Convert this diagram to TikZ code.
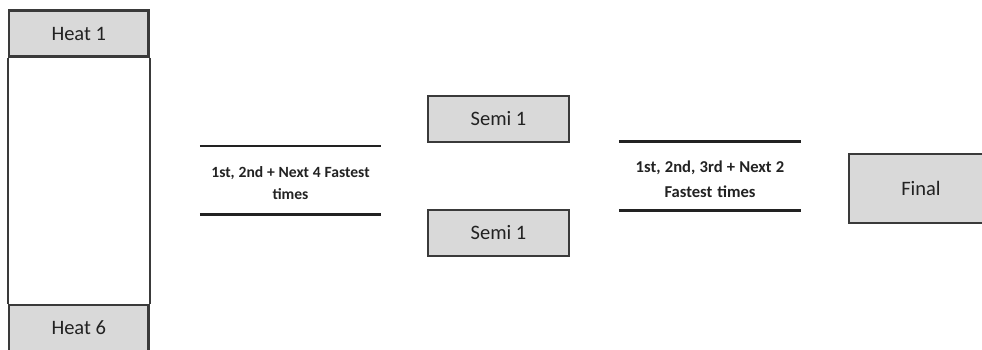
\documentclass[tikz,border=0pt]{standalone}
\usepackage{fontspec}
\setmainfont{Carlito}
\definecolor{boxgray}{HTML}{D9D9D9}
\definecolor{edgegray}{HTML}{3A3A3A}
\definecolor{rulegray}{HTML}{222222}
\newcommand{\rulespacing}{\spaceskip=0.226em plus 0.05em\relax}

\begin{document}
\begin{tikzpicture}[x=1pt, y=-1pt,
    stagebox/.style={draw=edgegray, line width=2.5pt, fill=boxgray, inner sep=0pt,
        text=rulegray, font=\fontsize{20.5}{22}\selectfont},
    rulelabel/.style={text width=181pt, inner sep=0pt, align=center, text=rulegray},
    ruleline/.style={rulegray, line width=2.5pt}]
    \useasboundingbox (0,0) rectangle (982,349);
    \clip (0,0) rectangle (982,349);
    % heats
    \node[stagebox, minimum width=139.5pt, minimum height=46pt] (heat1) at (78.75,33.5) {Heat 1};
    \node[stagebox, minimum width=139.5pt, minimum height=46pt] (heat6) at (78.75,328) {Heat 6};
    \draw[edgegray, line width=2.5pt] (heat1.south west) -- (heat6.north west);
    \draw[edgegray, line width=2.5pt] (heat1.south east) -- (heat6.north east);
    % first qualifying rule
    \node[rulelabel, font=\bfseries\fontsize{15.6}{21.5}\selectfont] (rule1) at (290.5,183)
        {\rulespacing 1st, 2nd + Next 4 Fastest\\times};
    \draw[ruleline] ([yshift=37pt]rule1.west) -- ([yshift=37pt]rule1.east);
    \draw[ruleline] ([yshift=-31.5pt]rule1.west) -- ([yshift=-31.5pt]rule1.east);
    % semis
    \node[stagebox, minimum width=141pt, minimum height=46pt] (semiA) at (498.5,119) {Semi 1};
    \node[stagebox, minimum width=141pt, minimum height=46pt] (semiB) at (498.5,233) {Semi 1};
    % second qualifying rule
    \node[rulelabel, text width=182pt, font=\bfseries\fontsize{16.6}{25}\selectfont] (rule2) at (710,179.2)
        {\rulespacing 1st, 2nd, 3rd + Next 2\\Fastest times};
    \draw[ruleline] ([yshift=37.5pt]rule2.west) -- ([yshift=37.5pt]rule2.east);
    \draw[ruleline] ([yshift=-31.5pt]rule2.west) -- ([yshift=-31.5pt]rule2.east);
    % final
    \node[stagebox, minimum width=144pt, minimum height=69pt] (final) at (921,188.5) {Final};
\end{tikzpicture}
\end{document}
